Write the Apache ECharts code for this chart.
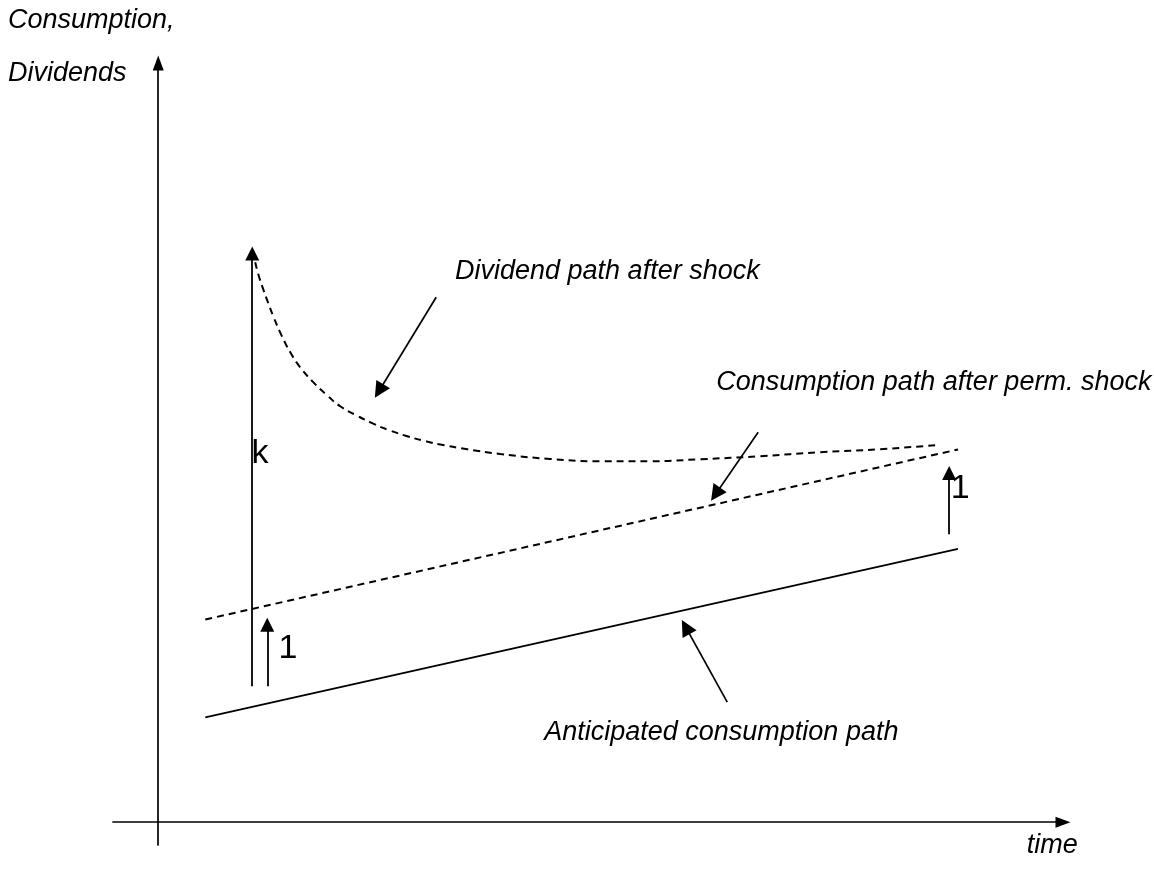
<!DOCTYPE html>
<html>
<head>
<meta charset="utf-8">
<script src="https://cdn.jsdelivr.net/npm/echarts@6/dist/echarts.min.js"></script>
<style>html,body{margin:0;padding:0;background:#fff}#c{width:1154px;height:875px}</style>
</head>
<body>
<div id="c"></div>
<script>
// ---- data (diagram units: time on x, consumption/dividends on y) ----
const anticipatedPath = [[5.2, 13.8], [88.4, 36.0]];
const permShockPath = [[5.2, 26.7], [88.4, 49.1]];
const dividendPath = [
  [10.72, 73.76], [11.05, 72.2], [11.60, 70.21], [12.15, 68.4], [12.71, 66.65],
  [13.6, 64.2], [14.59, 61.9], [15.7, 59.9], [17.13, 57.96], [18.6, 56.3],
  [20.11, 54.79], [21.9, 53.6], [23.76, 52.5], [25.6, 51.6], [27.52, 50.84],
  [29.5, 50.2], [31.17, 49.75], [34.15, 49.13], [37.80, 48.5], [43.32, 47.85],
  [48.85, 47.55], [54.38, 47.55], [59.90, 47.81], [66.53, 48.21], [73.16, 48.74],
  [79.80, 49.13], [85.87, 49.66]
];
// jump arrows: k-shock, 1-shock at start, 1-shock at end
const jumpArrows = [
  [[10.39, 17.91], [10.39, 74.9]],
  [[12.05, 17.91], [12.05, 26.0]],
  [[87.42, 37.93], [87.42, 46.0]]
];
// pointer arrows from labels to curves
const pointerArrows = [
  [[30.72, 69.15], [24.4, 56.8]],
  [[66.31, 51.37], [61.6, 43.2]],
  [[62.89, 15.81], [58.3, 25.7]]
];
const labelTexts = ['Dividend path after shock', 'Consumption path after perm. shock', 'Anticipated consumption path', 'time'];
const labelPos = [[32.8, 72.6], [61.67, 57.96], [42.66, 11.85], [96.0, -3.0]];
const markTexts = ['k', '1', '1'];
const markPos = [[10.3, 48.5], [13.3, 22.8], [87.6, 43.9]];
const axisTitles = ['Consumption,', 'Dividends'];

const FONT = 'Liberation Sans, Arial, sans-serif';
const chart = echarts.init(document.getElementById('c'));
chart.setOption({
  animation: false,
  backgroundColor: '#fff',
  grid: { left: 113, right: 91, top: 63, bottom: 30, containLabel: false },
  xAxis: {
    type: 'value', min: -5, max: 100,
    axisLine: { show: true, onZero: true, symbol: ['none', 'triangle'], symbolSize: [11, 15], lineStyle: { color: '#000', width: 1.7 } },
    axisTick: { show: false }, axisLabel: { show: false }, splitLine: { show: false }
  },
  yAxis: {
    type: 'value', min: -3, max: 100,
    axisLine: { show: true, onZero: true, symbol: ['none', 'triangle'], symbolSize: [11, 15], lineStyle: { color: '#000', width: 1.7 } },
    axisTick: { show: false }, axisLabel: { show: false }, splitLine: { show: false }
  },
  graphic: axisTitles.map((t, i) => ({
    type: 'text', left: 8, top: 7 + i * 53,
    style: { text: t, font: 'italic 27px ' + FONT, fill: '#000' }
  })),
  series: [
    { type: 'line', data: anticipatedPath, symbol: 'none', lineStyle: { color: '#000', width: 1.7 } },
    { type: 'line', data: permShockPath, symbol: 'none', lineStyle: { color: '#000', width: 2, type: [7, 5] } },
    { type: 'line', data: dividendPath, smooth: 0.5, symbol: 'none', lineStyle: { color: '#000', width: 2, type: [7, 5] } },
    {
      type: 'lines', coordinateSystem: 'cartesian2d', polyline: false,
      symbol: ['none', 'triangle'], symbolSize: [10, 14],
      lineStyle: { color: '#000', width: 1.8, opacity: 1, curveness: 0 },
      data: jumpArrows.map(c => ({ coords: c }))
    },
    {
      type: 'lines', coordinateSystem: 'cartesian2d', polyline: false,
      symbol: ['none', 'triangle'], symbolSize: [12, 16],
      lineStyle: { color: '#000', width: 1.7, opacity: 1, curveness: 0 },
      data: pointerArrows.map(c => ({ coords: c }))
    },
    {
      type: 'scatter', symbolSize: 0, silent: true, itemStyle: { opacity: 1 },
      data: labelPos.map((p, i) => ({ value: p, name: labelTexts[i] })),
      label: { show: true, position: 'right', distance: 0, formatter: p => p.name,
        fontFamily: FONT, fontStyle: 'italic', fontSize: 27, color: '#000', opacity: 1 }
    },
    {
      type: 'scatter', symbolSize: 0, silent: true, itemStyle: { opacity: 1 },
      data: markPos.map((p, i) => ({ value: p, name: markTexts[i] })),
      label: { show: true, position: 'right', distance: 0, formatter: p => p.name,
        fontFamily: FONT, fontSize: 34, color: '#000', opacity: 1 }
    }
  ]
});
</script>
</body>
</html>
